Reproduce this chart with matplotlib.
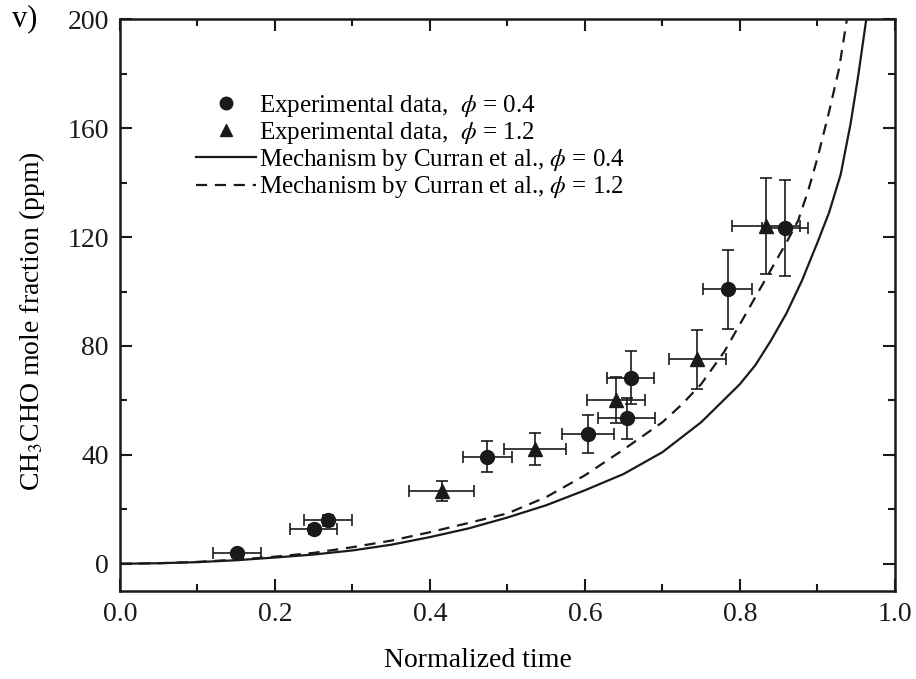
import matplotlib
matplotlib.use("Agg")
import matplotlib.pyplot as plt
from matplotlib.ticker import MultipleLocator

plt.rcParams['font.family'] = 'Liberation Serif'
plt.rcParams['mathtext.fontset'] = 'stix'

# experimental data, phi = 0.4
t_04 = [0.151, 0.250, 0.269, 0.474, 0.604, 0.654, 0.659, 0.784, 0.858]
y_04 = [4.0, 12.6, 15.9, 39.4, 47.6, 53.5, 68.4, 100.8, 123.4]
xerr_04 = [0.031, 0.030, 0.031, 0.032, 0.033, 0.037, 0.030, 0.032, 0.030]
yerr_04 = [1.0, 1.5, 2.2, 5.6, 7.0, 7.5, 9.8, 14.4, 17.6]

# experimental data, phi = 1.2
t_12 = [0.415, 0.535, 0.640, 0.745, 0.834]
y_12 = [26.8, 42.1, 60.1, 75.1, 124.0]
xerr_12 = [0.042, 0.040, 0.037, 0.037, 0.044]
yerr_12 = [3.7, 6.0, 8.4, 10.8, 17.7]

# mechanism by Curran et al.
t_sol = [0.0, 0.05, 0.1, 0.15, 0.2, 0.25, 0.3, 0.35, 0.4, 0.45, 0.5, 0.55,
         0.6, 0.65, 0.7, 0.75, 0.8, 0.82, 0.84, 0.86, 0.88, 0.9, 0.915,
         0.93, 0.943, 0.953, 0.963]
y_sol = [0.0, 0.2, 0.6, 1.3, 2.3, 3.4, 4.9, 7.0, 9.8, 13.0, 17.0, 21.5,
         27.0, 33.0, 41.0, 52.0, 66.0, 73.0, 82.0, 92.0, 104.0, 118.0, 129.0,
         143.0, 162.0, 180.0, 200.0]
t_dash = [0.0, 0.05, 0.1, 0.15, 0.2, 0.25, 0.3, 0.35, 0.4, 0.45, 0.5, 0.55,
          0.6, 0.65, 0.7, 0.725, 0.75, 0.78, 0.81, 0.84, 0.86, 0.875, 0.888,
          0.9, 0.915, 0.928, 0.938]
y_dash = [0.0, 0.2, 0.7, 1.5, 2.6, 4.0, 6.1, 8.5, 11.6, 15.0, 18.5, 24.5,
          32.5, 42.0, 52.0, 58.5, 66.0, 78.0, 93.0, 108.0, 118.0, 126.0, 137.0,
          149.0, 166.0, 182.0, 200.0]

col = '#1a1a1a'

fig = plt.figure(figsize=(9.16, 6.79), dpi=100)
ax = fig.add_axes([0.131, 0.1296, 0.846, 0.842])

ax.plot(t_sol, y_sol, '-', color=col, lw=1.6,
        label=r'Mechanism by Curran et al., $\phi$ = 0.4', zorder=2)
ax.plot(t_dash, y_dash, '--', color=col, lw=1.6, dashes=(5, 3.5),
        label=r'Mechanism by Curran et al., $\phi$ = 1.2', zorder=2)

ax.errorbar(t_04, y_04, xerr=xerr_04, yerr=yerr_04, fmt='o', color=col,
            ms=10, elinewidth=1.2, capsize=4, capthick=1.2, zorder=3)
ax.errorbar(t_12, y_12, xerr=xerr_12, yerr=yerr_12, fmt='^', color=col,
            ms=10, elinewidth=1.2, capsize=4, capthick=1.2, zorder=3)

# legend handles without the error bars
h1, = ax.plot([], [], 'o', color=col, ms=9,
              label=r'Experimental data,  $\phi$ = 0.4')
h2, = ax.plot([], [], '^', color=col, ms=9,
              label=r'Experimental data,  $\phi$ = 1.2')
handles, labels = ax.get_legend_handles_labels()
order = [2, 3, 0, 1]
ax.legend([handles[i] for i in order], [labels[i] for i in order],
          loc='upper left', bbox_to_anchor=(0.082, 0.8935), frameon=False,
          fontsize=18, handlelength=2.4, handletextpad=0.12,
          labelspacing=0.05, borderpad=0)

ax.set_xlim(0, 1.0)
ax.set_ylim(-10, 200)
ax.xaxis.set_major_locator(MultipleLocator(0.2))
ax.xaxis.set_minor_locator(MultipleLocator(0.1))
ax.yaxis.set_major_locator(MultipleLocator(40))
ax.yaxis.set_minor_locator(MultipleLocator(20))
ax.xaxis.set_major_formatter(plt.FormatStrFormatter('%.1f'))

ax.tick_params(which='both', direction='in', top=True, right=True,
               width=1.5, labelsize=20, colors=col)
ax.tick_params(which='major', length=8.5, pad=8)
ax.tick_params(which='minor', length=5)
for s in ax.spines.values():
    s.set_linewidth(1.8)
    s.set_color(col)

ax.set_xlabel('Normalized time', fontsize=20)
ax.set_ylabel(r'CH$_3$CHO mole fraction (ppm)', fontsize=20)
ax.xaxis.set_label_coords(0.462, -0.1)
ax.yaxis.set_label_coords(-0.094, 0.472)

fig.text(0.013, 0.972, 'v)', fontsize=22, va='center', ha='left')

fig.savefig('out.png', dpi=100)
